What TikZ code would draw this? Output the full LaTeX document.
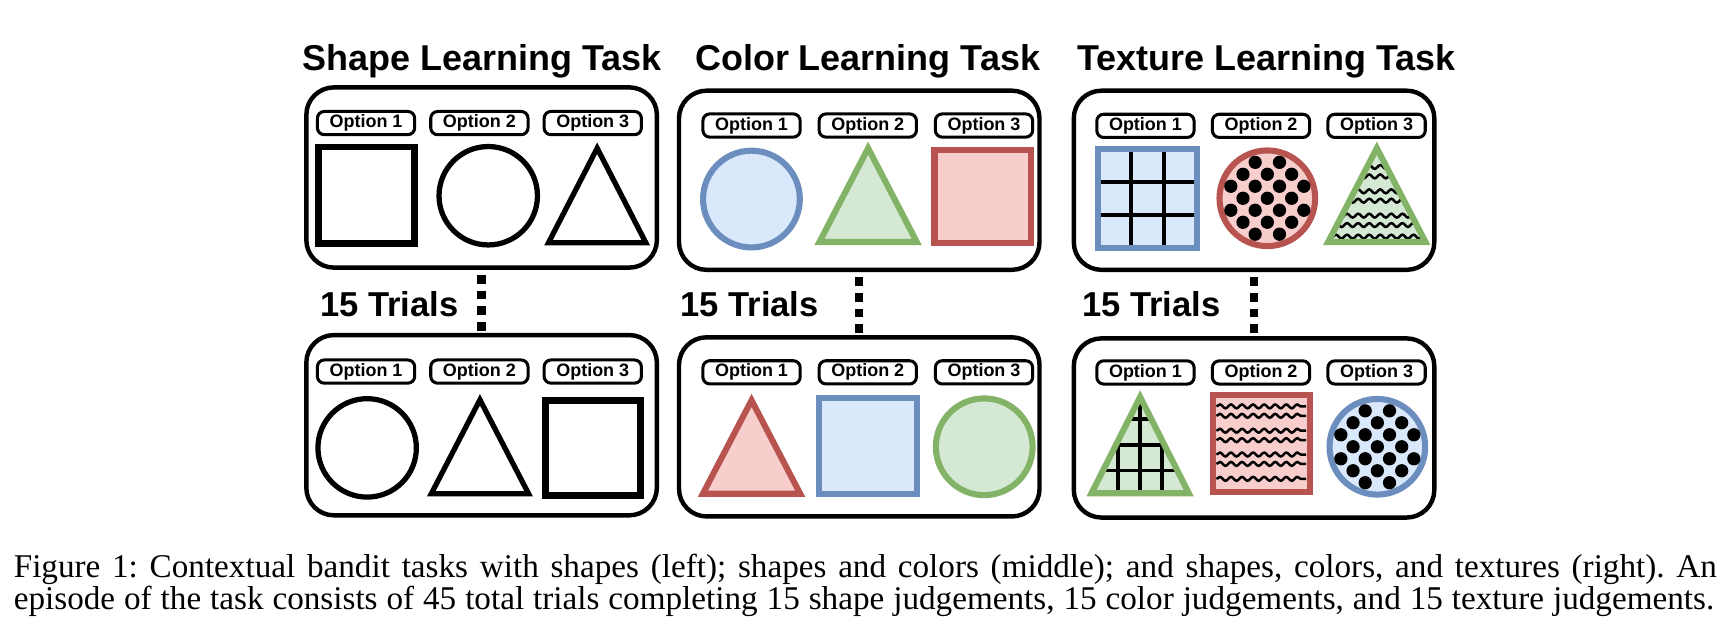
\documentclass[tikz,border=0pt]{standalone}
\usepackage{fontspec}
\setmainfont{Liberation Serif}
\newfontfamily\arialfont{Liberation Sans}
\usetikzlibrary{positioning,decorations.pathmorphing}

\definecolor{blueline}{HTML}{6C8EBF}
\definecolor{bluefill}{HTML}{DAE8FC}
\definecolor{greenline}{HTML}{82B366}
\definecolor{greenfill}{HTML}{D5E8D4}
\definecolor{redline}{HTML}{B85450}
\definecolor{redfill}{HTML}{F8CECC}

\newcommand{\titlefont}{\arialfont\bfseries\fontsize{13}{15}\selectfont}
\newcommand{\trialsfont}{\arialfont\bfseries\fontsize{12.5}{14}\selectfont}
\newcommand{\optfont}{\arialfont\bfseries\fontsize{6.5}{8}\selectfont}
\newcommand{\captionfont}{\frenchspacing\fontsize{12}{14}\selectfont}

% black dots inside a circle
\newcommand{\polkadots}[2]{%
  \foreach \dx/\dy in {-11/-32.5, 11/-32.5,
      -22/-21.7, 0/-21.7, 22/-21.7,
      -33/-10.85, -11/-10.85, 11/-10.85, 33/-10.85,
      -22/0, 0/0, 22/0,
      -33/10.85, -11/10.85, 11/10.85, 33/10.85,
      -22/21.7, 0/21.7, 22/21.7,
      -11/32.5, 11/32.5}
    \fill ({#1+\dx},{#2+\dy}) circle[radius=2.4pt];
}

\tikzset{
  panel/.style={
      draw,
      line width=1.6pt,
      rounded corners=10pt,
      minimum width=126.8pt,
      minimum height=65.2pt,
      inner sep=0pt,
  },
  widepanel/.style={
      panel,
      minimum width=130.4pt,
      minimum height=64.8pt,
  },
  optlabel/.style={
      draw,
      line width=1.1pt,
      rounded corners=2.5pt,
      minimum width=35.2pt,
      minimum height=8.4pt,
      inner sep=0pt,
      font=\optfont,
  },
  tasktitle/.style={
      font=\titlefont,
      anchor=base,
      inner sep=0pt,
  },
  trials/.style={
      font=\trialsfont,
      anchor=base west,
      inner sep=0pt,
  },
  trialline/.style={
      line width=3pt,
      dash pattern=on 3.2pt off 2.5pt,
      dash phase=3.9pt,
  },
  blackshape/.style={draw=black, line width=1.9pt, line join=miter},
  blueshape/.style={draw=blueline, fill=bluefill, line width=2.2pt, line join=miter},
  greenshape/.style={draw=greenline, fill=greenfill, line width=2.2pt, line join=miter},
  redshape/.style={draw=redline, fill=redfill, line width=2.2pt, line join=miter},
  gridline/.style={line width=1.4pt},
  wave/.style={
      decorate,
      decoration={snake, segment length=4pt, amplitude=0.7pt},
      line width=0.9pt,
  },
  captionline/.style={
      font=\captionfont,
      anchor=base west,
      inner sep=0pt,
  },
}

\begin{document}
\begin{tikzpicture}[x=0.4pt, y=-0.4pt]
  \useasboundingbox (0,0) rectangle (1568,579);

  % titles
  \node[tasktitle] (stitle) at (436,64) {Shape Learning Task};
  \node[tasktitle] (ctitle) at (784.5,64) {Color Learning Task};
  \node[tasktitle] (ttitle) at (1145,64) {Texture Learning Task};

  % panels
  \node[panel] (sp1) at (435.5,160.5) {};
  \node[panel] (sp2) at (435.5,384.5) {};
  \node[widepanel] (cp1) at (777,163) {};
  \node[widepanel] (cp2) at (777,386) {};
  \node[widepanel] (tp1) at (1134,163) {};
  \node[widepanel] (tp2) at (1134,387) {};

  \draw[trialline] (sp1.south) -- (sp2.north);
  \draw[trialline] (cp1.south) -- (cp2.north);
  \draw[trialline] (tp1.south) -- (tp2.north);

  \node[trials] (strials) at (289,286.3) {15 Trials};
  \node[trials] (ctrials) at (614.8,286.3) {15 Trials};
  \node[trials] (ttrials) at (978,286.3) {15 Trials};

  % option labels
  \foreach \i/\x in {1/331, 2/433.5, 3/536} {
    \node[optlabel] (so\i) at (\x,111.3) {Option \i};
    \node[optlabel] (sq\i) at (\x,336) {Option \i};
  }
  \foreach \i/\x in {1/679.6, 2/784.7, 3/889.8} {
    \node[optlabel] (co\i) at (\x,113.5) {Option \i};
    \node[optlabel] (cq\i) at (\x,336.7) {Option \i};
  }
  \foreach \i/\x in {1/1035.8, 2/1140.3, 3/1244.8} {
    \node[optlabel] (to\i) at (\x,113.8) {Option \i};
    \node[optlabel] (tq\i) at (\x,336.8) {Option \i};
  }

  % shape task
  \draw[blackshape, line width=2.4pt] (288,133) rectangle (375,220);
  \draw[blackshape] (441.5,177) circle[radius=17.8pt];
  \draw[blackshape] (540,134) -- (584,219.5) -- (496,219.5) -- cycle;

  \draw[blackshape] (332,405) circle[radius=17.8pt];
  \draw[blackshape] (434,361.5) -- (478,446.5) -- (390,446.5) -- cycle;
  \draw[blackshape, line width=2.4pt] (493,362) rectangle (579,448);

  % color task
  \draw[blueshape] (679.5,180) circle[radius=17.5pt];
  \draw[greenshape] (785,134) -- (829,218.8) -- (741,218.8) -- cycle;
  \draw[redshape] (845,136) rectangle (932,220);

  \draw[redshape] (679.6,362) -- (723.6,446.5) -- (635.6,446.5) -- cycle;
  \draw[blueshape] (741,360) rectangle (829,447);
  \draw[greenshape] (890,404) circle[radius=17.5pt];

  % texture task, first trial
  \fill[bluefill] (993,135) rectangle (1082,224);
  \foreach \g in {1022.7,1052.3} \draw[gridline] (\g,135) -- (\g,224);
  \foreach \g in {164.7,194.3} \draw[gridline] (993,\g) -- (1082,\g);
  \draw[blueshape, fill=none] (993,135) rectangle (1082,224);

  \draw[redshape] (1146,179.3) circle[radius=17.3pt];
  \polkadots{1146}{179.3}

  \begin{scope}
    \clip (1245,134) -- (1289,218.8) -- (1201,218.8) -- cycle;
    \fill[greenfill] (1190,120) rectangle (1300,230);
    \foreach \y in {151,159.5,173,181.5,195,203.5,214}
      \draw[wave] (1195,\y) -- (1295,\y);
  \end{scope}
  \draw[greenshape, fill=none] (1245,134) -- (1289,218.8) -- (1201,218.8) -- cycle;

  % texture task, last trial
  \begin{scope}
    \clip (1031,359) -- (1075,446) -- (987,446) -- cycle;
    \fill[greenfill] (980,340) rectangle (1085,460);
    \foreach \g in {1011.3,1031,1050.7} \draw[gridline] (\g,340) -- (\g,460);
    \foreach \g in {379,402.3,425.5} \draw[gridline] (980,\g) -- (1085,\g);
  \end{scope}
  \draw[greenshape, fill=none] (1031,359) -- (1075,446) -- (987,446) -- cycle;

  \fill[redfill] (1097,357) rectangle (1184.5,444.5);
  \begin{scope}
    \clip (1097,357) rectangle (1184.5,444.5);
    \foreach \y in {367.5,376,389.5,398,411,419.5,433}
      \draw[wave] (1100,\y) -- (1181,\y);
  \end{scope}
  \draw[redshape, fill=none] (1097,357) rectangle (1184.5,444.5);

  \draw[blueshape] (1245.5,404) circle[radius=17.3pt];
  \polkadots{1245.5}{404}

  % caption
  \node[captionline] (cap1) at (12,522) {\makebox[616pt][s]{Figure 1: Contextual bandit tasks with shapes (left); shapes and colors (middle); and shapes, colors, and textures (right). An}};
  \node[captionline] (cap2) at (12,551) {\makebox[615pt][s]{episode of the task consists of 45 total trials completing 15 shape judgements, 15 color judgements, and 15 texture judgements.}};
\end{tikzpicture}
\end{document}
